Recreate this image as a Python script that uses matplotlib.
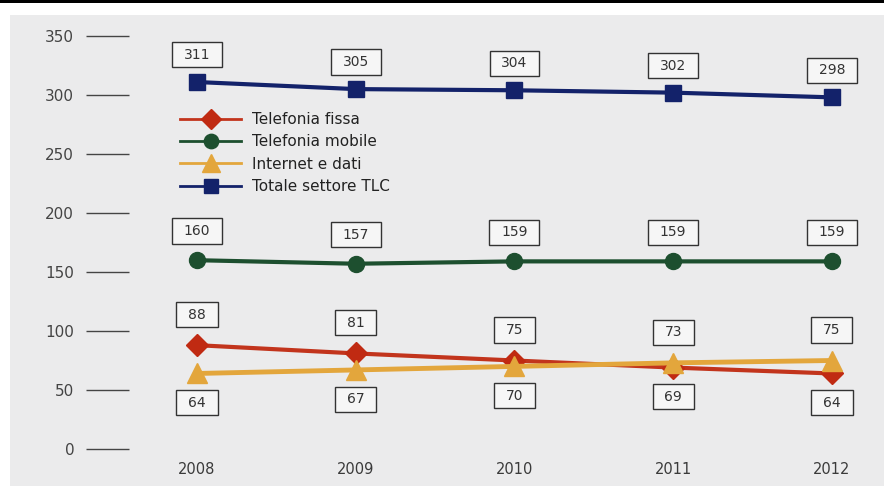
import matplotlib.pyplot as plt
import matplotlib.patches as mpatches
from matplotlib.path import Path

# data
years = [2008, 2009, 2010, 2011, 2012]
fissa = [88, 81, 75, 69, 64]
mobile = [160, 157, 159, 159, 159]
internet = [64, 67, 70, 73, 75]
totale = [311, 305, 304, 302, 298]
labels = ['Telefonia fissa', 'Telefonia mobile', 'Internet e dati', 'Totale settore TLC']
yticks = [0, 50, 100, 150, 200, 250, 300, 350]

c_fissa = '#c2341c'
c_mobile = '#1d4f2f'
c_internet = '#e3a63c'
c_totale = '#13226a'


def wide_box(x0, y0, width, height, mutation_size):
    # box with more room left/right than top/bottom
    px = 0.85 * mutation_size
    py = 0.40 * mutation_size
    verts = [(x0 - px, y0 - py), (x0 + width + px, y0 - py),
             (x0 + width + px, y0 + height + py), (x0 - px, y0 + height + py),
             (x0 - px, y0 - py)]
    return Path(verts, closed=True)


fig = plt.figure(figsize=(8.84, 4.86), dpi=100)
fig.patch.set_facecolor('white')
# grey backdrop and black rule at the top
fig.patches.append(mpatches.Rectangle((10 / 884, 0), 1, 471 / 486, transform=fig.transFigure,
                                      facecolor='#ebebec', edgecolor='none', zorder=-2))
fig.patches.append(mpatches.Rectangle((0, 483 / 486), 1, 3 / 486, transform=fig.transFigure,
                                      facecolor='black', edgecolor='none', zorder=-2))

ax = fig.add_axes([129 / 884, 37 / 486, 755 / 884, 413 / 486])
ax.set_facecolor('none')
ax.set_xlim(2007.572, 2012.328)
ax.set_ylim(0, 350)
for s in ax.spines.values():
    s.set_visible(False)

ax.set_yticks(yticks)
ax.tick_params(axis='y', direction='out', length=31, width=1.0, color='#444444',
               pad=8.5, labelsize=11, labelcolor='#444444')
ax.set_xticks(years)
ax.tick_params(axis='x', length=0, pad=9.5, labelsize=10.5, labelcolor='#3a3a3a')

ax.plot(years, fissa, color=c_fissa, lw=3, marker='D', ms=11.5, mfc='#c02a12', mec='#c02a12',
        label=labels[0], zorder=3)
ax.plot(years, mobile, color=c_mobile, lw=3, marker='o', ms=11.5, mfc=c_mobile, mec=c_mobile,
        label=labels[1], zorder=3)
ax.plot(years, internet, color=c_internet, lw=3.5, marker='^', ms=14, mfc=c_internet, mec=c_internet,
        label=labels[2], zorder=3)
ax.plot(years, totale, color=c_totale, lw=3, marker='s', ms=11.5, mfc=c_totale, mec=c_totale,
        label=labels[3], zorder=3)

box = dict(boxstyle=wide_box, facecolor='#f6f6f6', edgecolor='#333333', lw=1.0)


def put(x, v, dy):
    ax.annotate(str(v), (x, v), xytext=(0, dy), textcoords='offset points',
                ha='center', va='center', fontsize=10, color='#333333', bbox=box, zorder=4)


for i, yr in enumerate(years):
    put(yr, totale[i], 19.5)
    put(yr, mobile[i], 21)
    if fissa[i] >= internet[i]:
        put(yr, fissa[i], 22)
        put(yr, internet[i], -21)
    else:
        put(yr, internet[i], 22)
        put(yr, fissa[i], -21)

leg = ax.legend(loc='upper left', bbox_to_anchor=(51 / 755, (449 - 112) / 413), frameon=False,
                fontsize=11, handlelength=4.0, handletextpad=0.7, labelspacing=0.48,
                borderpad=0, borderaxespad=0, markerscale=0.9)
for t in leg.get_texts():
    t.set_color('#222222')
for h in leg.get_lines():
    h.set_linewidth(2)

fig.savefig('out.png', dpi=100)
